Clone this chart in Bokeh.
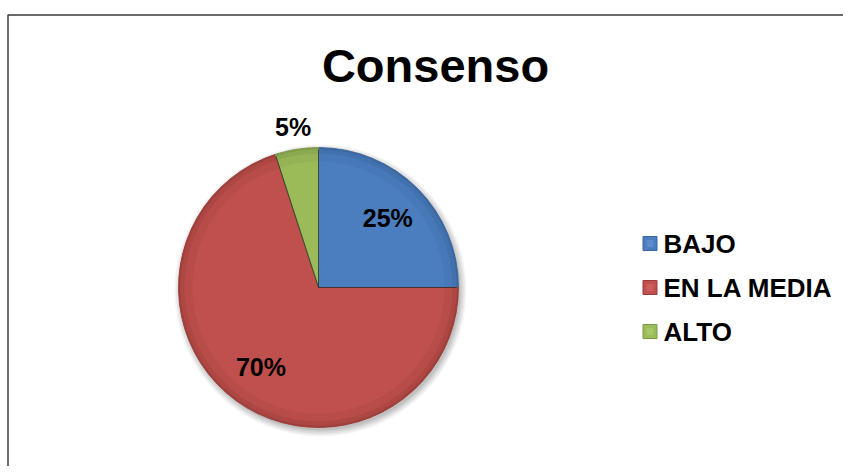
import math
from bokeh.plotting import figure
from bokeh.models import Range1d
from bokeh.embed import file_html
from bokeh.resources import INLINE
from bokeh.core.properties import value

# ---- data ----
title_text = "Consenso"
categories = ["BAJO", "EN LA MEDIA", "ALTO"]
percents = [25, 70, 5]
labels = ["25%", "70%", "5%"]
colors = ["#4A7EBF", "#C0504D", "#9BBB59"]
dark_colors = ["#3A659C", "#9A3D3A", "#7C9847"]
light_colors = ["#6D9AD6", "#DB6C69", "#B5D376"]

W, H = 843, 466
p = figure(width=W, height=H, output_backend="svg", toolbar_location=None,
           x_range=Range1d(0, W), y_range=Range1d(-H, 0),
           min_border=0, outline_line_color=None)
p.axis.visible = False
p.grid.visible = False
p.background_fill_color = "white"
p.border_fill_color = "white"

FONT = value("Liberation Sans")

# frame
p.line(x=[7.5, 7.5, W], y=[-H, -14.5, -14.5], line_color="#3a3a3a", line_width=1.5)

# title
p.text(x=[435], y=[-65], text=[title_text], text_font=FONT, text_font_style="bold",
       text_font_size="47px", text_align="center", text_baseline="middle", text_color="black")

cx, cy, R = 318, -287, 140

# shadow
for i, a in enumerate([0.04, 0.05, 0.05, 0.06, 0.07]):
    p.circle(x=[cx + 2], y=[cy - 3], radius=R + 6 - i * 1.5, fill_color="#000000",
             fill_alpha=a, line_color=None)

# wedges
total = sum(percents)
start = math.pi / 2
starts, ends = [], []
for v in percents:
    end = start - v / total * 2 * math.pi
    starts.append(start)
    ends.append(end)
    start = end

for i in range(len(categories)):
    s, e = starts[i], ends[i]
    p.wedge(x=[cx], y=[cy], radius=R, start_angle=e, end_angle=s,
            fill_color=colors[i], line_color=None)
    # outer bevel ring (darker towards the edge)
    for r0, r1, a in [(126, 134, 0.2), (134, 138, 0.5), (138, 140, 0.85)]:
        p.annular_wedge(x=[cx], y=[cy], inner_radius=r0, outer_radius=r1,
                        start_angle=e, end_angle=s, fill_color=dark_colors[i],
                        fill_alpha=a, line_color=None)
    # slice edges
    p.wedge(x=[cx], y=[cy], radius=R, start_angle=e, end_angle=s,
            fill_color=None, line_color=dark_colors[i], line_width=0.8)

# radial border lines
for i in range(len(categories)):
    for ang in (starts[i], ends[i]):
        p.line(x=[cx, cx + (R - 2) * math.cos(ang)], y=[cy, cy + (R - 2) * math.sin(ang)],
               line_color="#2a2a2a", line_width=0.8, line_alpha=0.6)

# data labels
lx, ly = [], []
for i, v in enumerate(percents):
    mid = (starts[i] + ends[i]) / 2
    rr = R * 0.7 if v >= 10 else R + 22
    lx.append(cx + rr * math.cos(mid))
    ly.append(cy + rr * math.sin(mid))
p.text(x=lx, y=ly, text=labels, text_font=FONT, text_font_style="bold",
       text_font_size="25px", text_align="center", text_baseline="middle", text_color="black")

# legend
leg_x, leg_y0, leg_dy = 649.5, -243, -44
ys = [leg_y0 + i * leg_dy for i in range(len(categories))]
p.scatter(x=[leg_x] * 3, y=ys, marker="square", size=14, fill_color=colors,
          line_color=dark_colors, line_width=1)
p.scatter(x=[leg_x] * 3, y=ys, marker="square", size=7, fill_color=light_colors,
          fill_alpha=0.5, line_color=None)
p.text(x=[663] * 3, y=ys, text=categories, text_font=FONT, text_font_style="bold",
       text_font_size="26px", text_align="left", text_baseline="middle", text_color="black")

open("out.html", "w").write(file_html(p, INLINE))
